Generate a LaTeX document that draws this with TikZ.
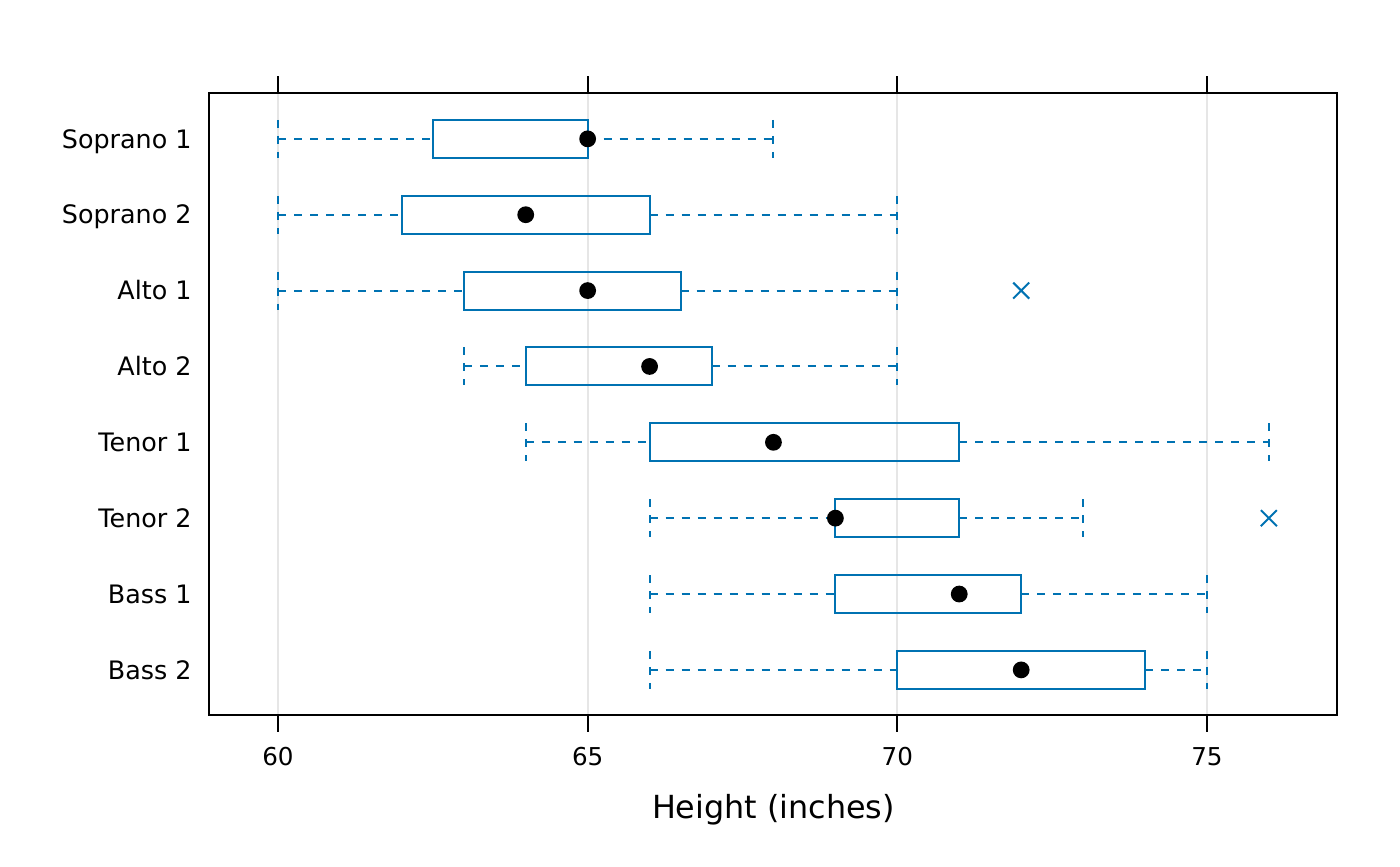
\documentclass[tikz,border=0pt]{standalone}
\usepackage{fontspec}
\setmainfont{DejaVu Sans}
\usepackage{xcolor}
\definecolor{box-main}{HTML}{0072B2}
\definecolor{grid-light}{HTML}{E6E6E6}
\usetikzlibrary{shapes.misc}

\begin{document}
\begin{tikzpicture}[
    panel/.style={black, line width=1pt},
    gridline/.style={grid-light, line width=1pt},
    whisker/.style={box-main, line width=1pt, dash pattern=on 4pt off 4pt},
    boxline/.style={box-main, line width=1pt},
    median/.style={black},
    outlier/.style={cross out, draw=box-main, line width=1pt, minimum size=7pt, inner sep=0pt},
    rowlabel/.style={anchor=base east, inner sep=0pt, yshift=-4.6pt, font=\fontsize{12.7}{15}\selectfont},
    ticklabel/.style={font=\fontsize{12.3}{15}\selectfont},
    axistitle/.style={font=\fontsize{15.9}{19}\selectfont}
  ]

    % Background
    \useasboundingbox (0,0) rectangle (700pt,-433pt);

  \begin{scope}[x=30.965pt, y=-37.93pt, shift={(-1718.9pt,-31.5pt)}]

    % Grid
    \draw[gridline] (60, 0.394) -- (60, 8.594);
    \draw[gridline] (65, 0.394) -- (65, 8.594);
    \draw[gridline] (70, 0.394) -- (70, 8.594);
    \draw[gridline] (75, 0.394) -- (75, 8.594);

    % Panel
    \draw[panel] (58.886, 0.394) rectangle (77.10, 8.594);

    % Ticks
    \draw[panel] (60, 0.394) -- (60, 0.170);
    \draw[panel] (65, 0.394) -- (65, 0.170);
    \draw[panel] (70, 0.394) -- (70, 0.170);
    \draw[panel] (75, 0.394) -- (75, 0.170);
    \draw[panel] (60, 8.594) -- (60, 8.818);
    \draw[panel] (65, 8.594) -- (65, 8.818);
    \draw[panel] (70, 8.594) -- (70, 8.818);
    \draw[panel] (75, 8.594) -- (75, 8.818);

    % Tick labels
    \node[ticklabel] (tick60) at (60, 9.14) {60};
    \node[ticklabel] (tick65) at (65, 9.14) {65};
    \node[ticklabel] (tick70) at (70, 9.14) {70};
    \node[ticklabel] (tick75) at (75, 9.14) {75};

    % Axis title
    \node[axistitle] (xtitle) at (68, 9.84) {Height (inches)};

    % Row labels
    \node[rowlabel] (soprano1) at (58.611, 1) {Soprano 1};
    \node[rowlabel] (soprano2) at (58.611, 2) {Soprano 2};
    \node[rowlabel] (alto1) at (58.611, 3) {Alto 1};
    \node[rowlabel] (alto2) at (58.611, 4) {Alto 2};
    \node[rowlabel] (tenor1) at (58.611, 5) {Tenor 1};
    \node[rowlabel] (tenor2) at (58.611, 6) {Tenor 2};
    \node[rowlabel] (bass1) at (58.611, 7) {Bass 1};
    \node[rowlabel] (bass2) at (58.611, 8) {Bass 2};

    % Soprano 1
    \draw[whisker] (60, 0.75) -- (60, 1.25) (60, 1) -- (62.5, 1) (65, 1) -- (68, 1) (68, 0.75) -- (68, 1.25);
    \draw[boxline] (62.5, 0.75) rectangle (65, 1.25);
    \fill[median] (65, 1) circle (4.2pt);

    % Soprano 2
    \draw[whisker] (60, 1.75) -- (60, 2.25) (60, 2) -- (62, 2) (66, 2) -- (70, 2) (70, 1.75) -- (70, 2.25);
    \draw[boxline] (62, 1.75) rectangle (66, 2.25);
    \fill[median] (64, 2) circle (4.2pt);

    % Alto 1
    \draw[whisker] (60, 2.75) -- (60, 3.25) (60, 3) -- (63, 3) (66.5, 3) -- (70, 3) (70, 2.75) -- (70, 3.25);
    \draw[boxline] (63, 2.75) rectangle (66.5, 3.25);
    \fill[median] (65, 3) circle (4.2pt);
    \node[outlier] (alto1out) at (72, 3) {};

    % Alto 2
    \draw[whisker] (63, 3.75) -- (63, 4.25) (63, 4) -- (64, 4) (67, 4) -- (70, 4) (70, 3.75) -- (70, 4.25);
    \draw[boxline] (64, 3.75) rectangle (67, 4.25);
    \fill[median] (66, 4) circle (4.2pt);

    % Tenor 1
    \draw[whisker] (64, 4.75) -- (64, 5.25) (64, 5) -- (66, 5) (71, 5) -- (76, 5) (76, 4.75) -- (76, 5.25);
    \draw[boxline] (66, 4.75) rectangle (71, 5.25);
    \fill[median] (68, 5) circle (4.2pt);

    % Tenor 2
    \draw[whisker] (66, 5.75) -- (66, 6.25) (66, 6) -- (69, 6) (71, 6) -- (73, 6) (73, 5.75) -- (73, 6.25);
    \draw[boxline] (69, 5.75) rectangle (71, 6.25);
    \fill[median] (69, 6) circle (4.2pt);
    \node[outlier] (tenor2out) at (76, 6) {};

    % Bass 1
    \draw[whisker] (66, 6.75) -- (66, 7.25) (66, 7) -- (69, 7) (72, 7) -- (75, 7) (75, 6.75) -- (75, 7.25);
    \draw[boxline] (69, 6.75) rectangle (72, 7.25);
    \fill[median] (71, 7) circle (4.2pt);

    % Bass 2
    \draw[whisker] (66, 7.75) -- (66, 8.25) (66, 8) -- (70, 8) (74, 8) -- (75, 8) (75, 7.75) -- (75, 8.25);
    \draw[boxline] (70, 7.75) rectangle (74, 8.25);
    \fill[median] (72, 8) circle (4.2pt);

  \end{scope}

\end{tikzpicture}
\end{document}
